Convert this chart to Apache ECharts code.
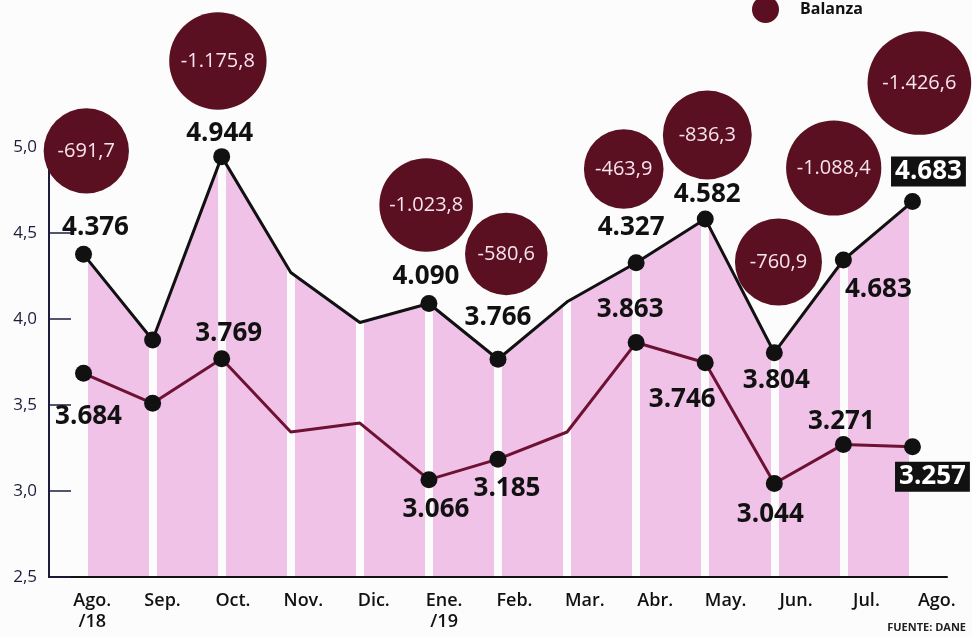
<!DOCTYPE html>
<html>
<head>
<meta charset="utf-8">
<script src="https://cdn.jsdelivr.net/npm/echarts@6/dist/echarts.min.js"></script>
<style>
  html, body { margin: 0; padding: 0; background: #fdfcfd; }
  #chart { width: 972px; height: 637px; }
</style>
</head>
<body>
<div id="chart"></div>
<script>
// meses
const months = ["Ago.\n/18", "Sep.", "Oct.", "Nov.", "Dic.", "Ene.\n/19", "Feb.", "Mar.", "Abr.", "May.", "Jun.", "Jul.", "Ago."];
// linea negra (importaciones) y roja (exportaciones), miles de millones US$
const importaciones = [4.376, 3.878, 4.944, 4.27, 3.98, 4.09, 3.766, 4.10, 4.327, 4.582, 3.804, 4.343, 4.683];
const exportaciones = [3.684, 3.51, 3.769, 3.343, 3.395, 3.066, 3.185, 3.343, 3.863, 3.746, 3.044, 3.271, 3.257];
// textos tal como salen impresos
const importLabels = ["4.376", "", "4.944", "", "", "4.090", "3.766", "", "4.327", "4.582", "3.804", "4.683", "4.683"];
const exportLabels = ["3.684", "", "3.769", "", "", "3.066", "3.185", "", "3.863", "3.746", "3.044", "3.271", "3.257"];
// balanza
const balanza = [-691.7, -1175.8, -1023.8, -580.6, -463.9, -836.3, -760.9, -1088.4, -1426.6];
const yTicks = [2.5, 5.0];

// layout (no son datos)
const hideDot = [3, 4, 7];
const impOffsets = [[12, -27], null, [-2, -23], null, null, [-3, -27], [0, -42], null, [-5, -35], [2, -24], [2, 28], [35, 30], [16, -30]];
const expOffsets = [[5, 43], null, [7, -25], null, null, [7, 30], [9, 29], null, [-6, -33], [-23, 37], [-4, 31], [-2, -23], [20, 30]];
const bubbleX = [0.04, 1.945, 4.96, 6.12, 7.82, 9.03, 10.06, 10.86, 12.1];
const bubbleY = [4.977, 5.50, 4.663, 4.378, 4.872, 5.07, 4.331, 4.878, 5.372];

const FONT = "'Open Sans', sans-serif";
const pink = "#f1c2e8";
const maroon = "#5a1020";
const navy = "#1c1c3c";

function fmt(v) {
  let parts = Math.abs(v).toFixed(1).split(".");
  let ent = parts[0].replace(/\B(?=(\d{3})+(?!\d))/g, ".");
  return (v < 0 ? "-" : "") + ent + "," + parts[1];
}

function lineData(values, labels, offsets, boxed) {
  return values.map((v, i) => {
    let item = { value: v };
    if (hideDot.indexOf(i) >= 0) {
      item.symbol = "none";
    }
    if (labels[i]) {
      item.label = {
        show: true,
        formatter: labels[i],
        position: "inside",
        offset: offsets[i]
      };
      if (i == values.length - 1 && boxed) {
        item.label.backgroundColor = "#111";
        item.label.color = "#fff";
        item.label.padding = [3, 4, 1, 4];
      }
    }
    return item;
  });
}

const valueLabel = {
  show: false,
  color: "#111",
  fontFamily: FONT,
  fontWeight: 700,
  fontSize: 26,
  align: "center",
  verticalAlign: "middle"
};

let option = {
  backgroundColor: "#fdfcfd",
  animation: false,
  legend: {
    data: ["Balanza"],
    left: 747,
    top: -9,
    itemWidth: 27,
    itemHeight: 27,
    itemGap: 24,
    icon: "circle",
    textStyle: { color: "#111", fontFamily: FONT, fontWeight: 700, fontSize: 16, padding: [0, 0, 0, 16] }
  },
  graphic: [
    {
      type: "text",
      right: 6,
      top: 622,
      style: { text: "FUENTE: DANE", fill: "#222", font: "700 11px " + FONT }
    }
  ],
  grid: [
    { left: 49, right: 25, top: 147, bottom: 60 },
    { left: 57, width: 921, top: 147, bottom: 60 }
  ],
  xAxis: [
    {
      type: "category",
      gridIndex: 0,
      z: 8,
      data: months,
      boundaryGap: true,
      axisLine: { onZero: false, lineStyle: { color: "#111", width: 2 } },
      axisTick: { show: false },
      axisLabel: { show: false },
      splitLine: { show: false }
    },
    {
      type: "value",
      gridIndex: 0,
      min: -0.5,
      max: 12.5,
      show: false
    },
    {
      type: "category",
      gridIndex: 1,
      data: months,
      boundaryGap: true,
      axisLine: { show: false },
      axisTick: { show: false },
      splitLine: { show: false },
      axisLabel: {
        margin: 13,
        color: "#111",
        fontFamily: FONT,
        fontWeight: 600,
        fontSize: 18,
        lineHeight: 21,
        interval: 0
      }
    }
  ],
  yAxis: [
    {
      type: "value",
      gridIndex: 0,
      position: "left",
      z: 8,
      min: yTicks[0],
      max: yTicks[1],
      interval: 0.5,
      axisLine: { show: true, onZero: false, lineStyle: { color: navy, width: 2 } },
      axisTick: { show: true, inside: true, length: 22, lineStyle: { color: navy, width: 1.5 } },
      axisLabel: {
        margin: 12,
        color: navy,
        fontFamily: FONT,
        fontSize: 17,
        verticalAlign: "middle",
        padding: [0, 0, 10, 0],
        formatter: v => v.toFixed(1).replace(".", ",")
      },
      splitLine: { show: false }
    },
    { type: "value", gridIndex: 1, min: 0, max: 1, show: false }
  ],
  series: [
    {
      name: "area",
      type: "line",
      z: 1,
      xAxisIndex: 0,
      yAxisIndex: 0,
      data: importaciones,
      symbol: "none",
      lineStyle: { width: 0 },
      areaStyle: { color: pink, opacity: 1, origin: "start" },
      silent: true,
      markLine: {
        silent: true,
        symbol: ["none", "none"],
        label: { show: false },
        lineStyle: { color: "#fdfcfd", width: 8, type: "solid" },
        data: months.map((m, i) => ({ xAxis: i }))
      }
    },
    {
      name: "Importaciones",
      type: "line",
      z: 10,
      xAxisIndex: 0,
      yAxisIndex: 0,
      data: lineData(importaciones, importLabels, impOffsets, true),
      symbol: "circle",
      symbolSize: 17,
      itemStyle: { color: "#111" },
      lineStyle: { color: "#111", width: 3 },
      label: valueLabel
    },
    {
      name: "Exportaciones",
      type: "line",
      z: 10,
      xAxisIndex: 0,
      yAxisIndex: 0,
      data: lineData(exportaciones, exportLabels, expOffsets, true),
      symbol: "circle",
      symbolSize: 17,
      itemStyle: { color: "#111" },
      lineStyle: { color: "#6d1233", width: 3 },
      label: valueLabel
    },
    {
      name: "Balanza",
      type: "scatter",
      z: 11,
      clip: false,
      xAxisIndex: 1,
      yAxisIndex: 0,
      data: balanza.map((v, i) => [bubbleX[i], bubbleY[i], v]),
      symbolSize: d => 68 + 0.025 * Math.abs(d[2]),
      itemStyle: { color: maroon, opacity: 1 },
      label: {
        show: true,
        position: "inside",
        formatter: p => fmt(p.data[2]),
        color: "#f8e4ef",
        fontFamily: FONT,
        fontSize: 20
      }
    }
  ]
};

let chart = echarts.init(document.getElementById("chart"));
chart.setOption(option);
</script>
</body>
</html>
